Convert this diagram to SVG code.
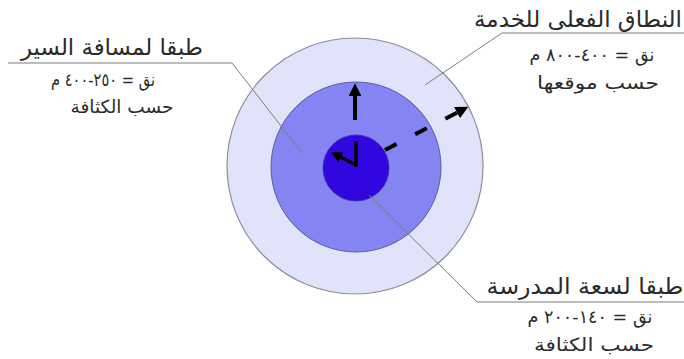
<svg xmlns="http://www.w3.org/2000/svg" width="684" height="359" viewBox="0 0 684 359">
<style>
.t{font-family:"DejaVu Sans",sans-serif;fill:#2a2a2a;text-anchor:middle;direction:rtl}
.h{font-size:23px}
.s{font-size:18px}
.lead{fill:none;stroke:#7d7d7d;stroke-width:1}
.hand{fill:none;stroke:#000;stroke-linecap:butt}
</style>
<defs>
<marker id="ah" viewBox="0 0 10 10" refX="0" refY="5" markerWidth="3.2" markerHeight="3.2" orient="auto" markerUnits="strokeWidth">
<path d="M0,0 L10,5 L0,10 z" fill="#000"/>
</marker>
</defs>
<rect width="684" height="359" fill="#fff"/>
<g id="outer"><circle cx="355" cy="166" r="128" fill="#e0e3fa" stroke="#8c8c9c" stroke-width="1.2"/></g>
<g id="middle"><circle cx="356" cy="167" r="85" fill="#8484f2" stroke="#5a5a9a" stroke-width="1"/></g>
<g id="inner"><circle cx="356" cy="168" r="33" fill="#3206de" stroke="#3a2aa0" stroke-width="0.8"/></g>
<g id="connectors">
<path class="lead" d="M8,63 L232,63 L302,153"/>
<path class="lead" d="M684,33 L502,33 L425,85"/>
<path class="lead" d="M684,302 L477,302 L369,195"/>
<path class="hand" stroke-width="4" d="M355,120 L355,96" marker-end="url(#ah)"/>
<path class="hand" stroke-width="3.5" d="M356,141 L356,167"/>
<path class="hand" stroke-width="3.5" d="M356,165 L341,157.2" marker-end="url(#ah)"/>
<path class="hand" stroke-width="4" stroke-dasharray="13 21" d="M385,150 L457,112.6" marker-end="url(#ah)"/>
</g>
<g id="label-walk">
<text class="t h" x="112" y="55" textLength="182" lengthAdjust="spacingAndGlyphs">طبقا لمسافة السير</text>
<text class="t s" x="103" y="86" textLength="104" lengthAdjust="spacingAndGlyphs">نق = ٢٥٠-٤٠٠ م</text>
<text class="t s" x="122" y="113" textLength="103" lengthAdjust="spacingAndGlyphs">حسب الكثافة</text>
</g>
<g id="label-service">
<text class="t h" x="578" y="27" textLength="208" lengthAdjust="spacingAndGlyphs">النطاق الفعلى للخدمة</text>
<text class="t s" x="592" y="61" textLength="125" lengthAdjust="spacingAndGlyphs">نق = ٤٠٠-٨٠٠ م</text>
<text class="t s" x="598" y="89" textLength="122" lengthAdjust="spacingAndGlyphs">حسب موقعها</text>
</g>
<g id="label-school">
<text class="t h" x="585" y="294" textLength="197" lengthAdjust="spacingAndGlyphs">طبقا لسعة المدرسة</text>
<text class="t s" x="590" y="323" textLength="125" lengthAdjust="spacingAndGlyphs">نق = ١٤٠-٢٠٠ م</text>
<text class="t s" x="594" y="351" textLength="120" lengthAdjust="spacingAndGlyphs">حسب الكثافة</text>
</g>
</svg>
